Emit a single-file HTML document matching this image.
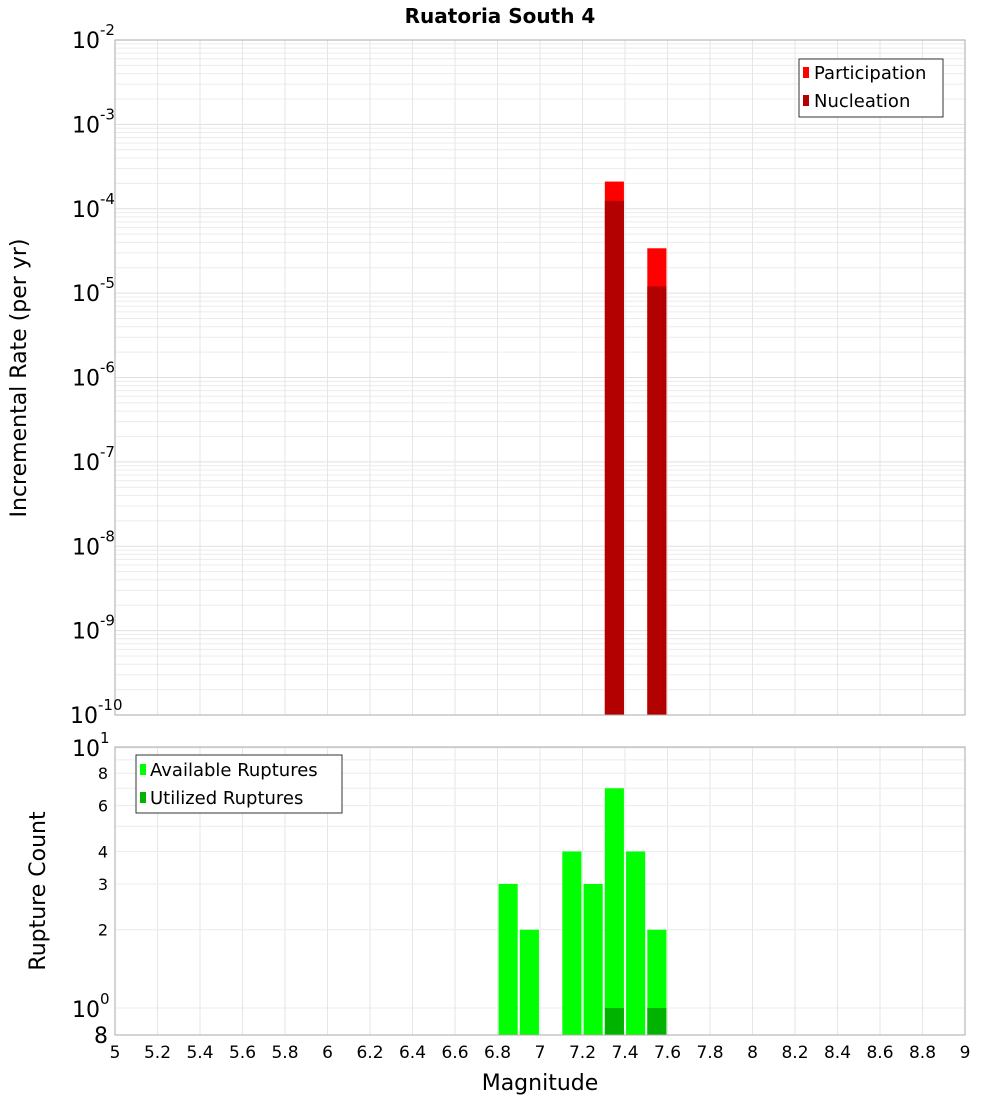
<!DOCTYPE html>
<html><head><meta charset="utf-8"><style>
body{margin:0;background:#fff;font-family:"Liberation Sans","DejaVu Sans",sans-serif}
svg text{font-family:"DejaVu Sans","Liberation Sans",sans-serif}
</style></head><body>
<svg id="c" width="1000" height="1100" xmlns="http://www.w3.org/2000/svg">
<text x="500" y="23" text-anchor="middle" font-size="20" font-weight="bold">Ruatoria South 4</text>
<g id="topg"></g><g id="botg"></g>
</svg>
<script>
const mags=[6.85,6.95,7.15,7.25,7.35,7.45,7.55];
const available=[3,2,4,3,7,4,2];
const utilized=[0,0,0,0,1,0,1];
const rateMags=[7.35,7.55];
const participation=[2.1e-4,3.4e-5];
const nucleation=[1.24e-4,1.2e-5];
const xTicks=[5,5.2,5.4,5.6,5.8,6,6.2,6.4,6.6,6.8,7,7.2,7.4,7.6,7.8,8,8.2,8.4,8.6,8.8,9];
const topExp=[-2,-3,-4,-5,-6,-7,-8,-9,-10];
const botTicks=[2,3,4,6,8];
const NS='http://www.w3.org/2000/svg';
const X0=115,X1=965;
const xs=m=>X0+(m-5)/4*(X1-X0);
const T0=40,T1=715;
const yt=v=>T0+(-2-Math.log10(v))*(T1-T0)/8;
const B0=747,B1=1035;
const yb=v=>1008-Math.log10(v)*260;
function el(p,t,a,txt){const e=document.createElementNS(NS,t);for(const k in a)e.setAttribute(k,a[k]);if(txt!==undefined)e.textContent=txt;p.appendChild(e);return e;}
const topG=document.getElementById('topg'),botG=document.getElementById('botg');
for(let d=-10;d<-2;d++)for(let k=1;k<10;k++){const y=yt(k*Math.pow(10,d));
 const g=el(topG,'line',{x1:X0,x2:X1,y1:y,y2:y,stroke:k==1?'#e0e0e0':'#ececec','stroke-width':1});
 
 }
xTicks.forEach(t=>{const x=xs(t);
 const g=el(topG,'line',{x1:x,x2:x,y1:T0,y2:T1,stroke:'#e6e6e6'});
 
 
 const g2=el(botG,'line',{x1:x,x2:x,y1:B0,y2:B1,stroke:'#e6e6e6'});
 
 });
const bw=0.09*(X1-X0)/4;
rateMags.forEach((m,i)=>{
 const r=el(topG,'rect',{x:xs(m)-bw/2,y:yt(participation[i]),width:bw,height:T1-yt(participation[i]),fill:'#ff0000'});
 
 
 const n=el(topG,'rect',{x:xs(m)-bw/2,y:yt(nucleation[i]),width:bw,height:T1-yt(nucleation[i]),fill:'#b30000'});
 
 });
el(topG,'rect',{x:X0,y:T0,width:X1-X0,height:T1-T0,fill:'none',stroke:'#aaa'});
topExp.forEach(e=>{const y=yt(Math.pow(10,e));
 const t=el(topG,'text',{x:e==-10?70:72,y:y+8,'font-size':22});
 
 
 el(t,'tspan',{},'10');el(t,'tspan',{dy:-13,'font-size':15},String(e));});
const yl=el(topG,'text',{x:26,y:378,'font-size':22,'text-anchor':'middle',transform:'rotate(-90 26 378)'},'Incremental Rate (per yr)');


const lg=el(topG,'g',{});


el(lg,'rect',{x:799,y:59,width:144,height:58,fill:'#fff',stroke:'#333'});
el(lg,'rect',{x:803,y:67,width:6,height:11,fill:'#ff0000'});el(lg,'text',{x:814,y:79,'font-size':18},'Participation');
el(lg,'rect',{x:803,y:95,width:6,height:11,fill:'#b30000'});el(lg,'text',{x:814,y:107,'font-size':18},'Nucleation');
for(let k=1;k<=10;k++){const y=yb(k);const g=el(botG,'line',{x1:X0,x2:X1,y1:y,y2:y,stroke:'#ececec'});
 
 }
mags.forEach((m,i)=>{
 const r=el(botG,'rect',{x:xs(m)-bw/2,y:yb(available[i]),width:bw,height:B1-yb(available[i]),fill:'#00ff00'});
 
 
 if(utilized[i]>0){const u=el(botG,'rect',{x:xs(m)-bw/2,y:yb(utilized[i]),width:bw,height:B1-yb(utilized[i]),fill:'#00b300'});
 
 }});
el(botG,'rect',{x:X0,y:B0,width:X1-X0,height:B1-B0,fill:'none',stroke:'#aaa'});
botTicks.forEach(v=>{const t=el(botG,'text',{x:108,y:yb(v)+6,'font-size':16,'text-anchor':'end'},String(v));
 
 });
let t=el(botG,'text',{x:72,y:756,'font-size':22});el(t,'tspan',{},'10');el(t,'tspan',{dy:-13,'font-size':15},'1');
t=el(botG,'text',{x:72,y:1017,'font-size':22});el(t,'tspan',{},'10');el(t,'tspan',{dy:-13,'font-size':15},'0');
el(botG,'text',{x:108,y:1043,'font-size':22,'text-anchor':'end'},'8');
const yl2=el(botG,'text',{x:45,y:891,'font-size':22,'text-anchor':'middle',transform:'rotate(-90 45 891)'},'Rupture Count');


const lg2=el(botG,'g',{});


el(lg2,'rect',{x:136,y:755,width:206,height:58,fill:'#fff',stroke:'#333'});
el(lg2,'rect',{x:140,y:764,width:6,height:11,fill:'#00ff00'});el(lg2,'text',{x:150,y:776,'font-size':18},'Available Ruptures');
el(lg2,'rect',{x:140,y:792,width:6,height:11,fill:'#00b300'});el(lg2,'text',{x:150,y:804,'font-size':18},'Utilized Ruptures');
xTicks.forEach(v=>{const tt=el(botG,'text',{x:xs(v),y:1058,'font-size':17,'text-anchor':'middle'},String(v));
 
 });
const xl=el(botG,'text',{x:540,y:1090,'font-size':22,'text-anchor':'middle'},'Magnitude');


</script>
</body></html>
